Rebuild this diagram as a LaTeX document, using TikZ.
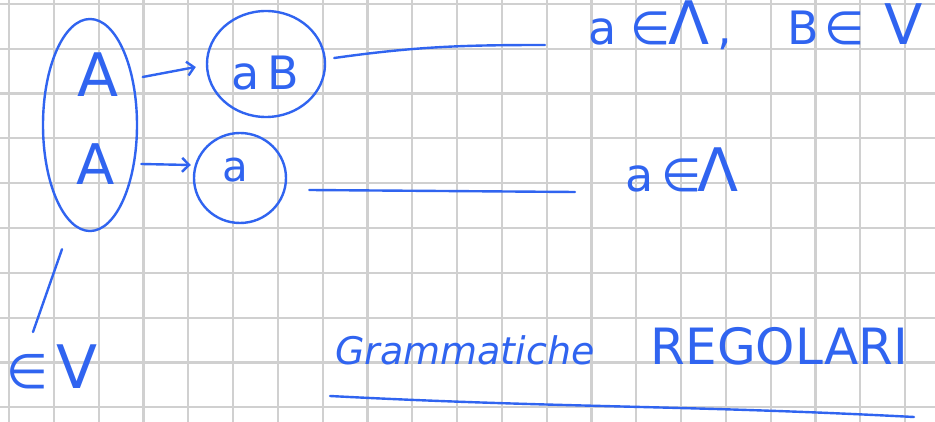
\documentclass[tikz,border=0pt]{standalone}
\usepackage{fontspec}
\setmainfont{DejaVu Sans}
\usetikzlibrary{shapes.geometric,arrows.meta}

\definecolor{ink}{RGB}{48,100,240}
\definecolor{paper}{RGB}{208,208,208}

\tikzset{
  gridline/.style={draw=paper, line width=2.2pt},
  pen/.style={draw=ink, line width=2.4pt, line cap=round, line join=round},
  blob/.style={pen, ellipse, inner sep=0pt},
  letter/.style={text=ink, inner sep=0pt},
  produces/.style={pen, -{Straight Barb[length=7pt,width=14pt]}}
}
\newcommand{\biglambda}{{\fontsize{60}{60}\selectfont Λ}}

\begin{document}
\begin{tikzpicture}[x=1pt, y=-1pt]
	\useasboundingbox[fill=white] (0,0) rectangle (935,422);

	% squared paper
	\foreach \k in {0,...,20}
		\draw[gridline] ({9+44.8*\k},0) -- ({9+44.8*\k},422);
	\foreach \k in {0,...,9}
		\draw[gridline] (0,{4+44.8*\k}) -- (935,{4+44.8*\k});

	% left-hand sides
	\node[blob, minimum width=94pt, minimum height=212pt] (pair) at (90,125) {};
	\node[letter, font=\fontsize{60}{60}\selectfont] (lhsA) at (98,75) {A};
	\node[letter, font=\fontsize{56}{56}\selectfont] (lhsB) at (96,164) {A};

	% right-hand sides
	\node[blob, minimum width=118pt, minimum height=106pt] (aB) at (266,64) {};
	\node[letter, font=\fontsize{46}{46}\selectfont] (aBtext) at (265,73) {a\,B};
	\node[blob, minimum width=92pt, minimum height=90pt] (term) at (240,178) {};
	\node[letter, font=\fontsize{42}{42}\selectfont] (termtext) at (235,170) {a};

	\draw[produces] ([xshift=24,yshift=-2]lhsA.east) -- ([shift={(-10,3)}]aB.west);
	\draw[produces] ([xshift=26]lhsB.east) -- ([shift={(-2,-13)}]term.west);

	% conditions
	\node[letter, anchor=base west, font=\fontsize{46}{46}\selectfont] (rule1) at (588,45)
		{a\hspace{14pt}∈\hspace{-2pt}\biglambda\hspace{8pt},\hspace{55pt}B\hspace{6pt}∈\hspace{20pt}{\fontsize{56}{56}\selectfont V}};
	\node[letter, anchor=base west, font=\fontsize{46}{46}\selectfont] (rule2) at (625,192)
		{a\hspace{8pt}∈\hspace{-4pt}\biglambda};

	\draw[pen] ([shift={(8,-6)}]aB.east) to[out=8,in=180] ([xshift=-43]rule1.base west);
	\draw[pen] ([shift={(22,12)}]term.east) -- ([xshift=-50]rule2.base west);

	% nonterminals
	\node[letter, anchor=base west, font=\fontsize{60}{60}\selectfont] (member) at (6,388) {{\fontsize{48}{48}\selectfont ∈}\hspace{8pt}V};
	\draw[pen] ([shift={(-28,17)}]pair.south) -- ([shift={(27,-56)}]member.base west);

	% title
	\node[letter, anchor=base west, font=\fontsize{50}{50}\selectfont] (title) at (335,364) {{\fontsize{38}{38}\selectfont\itshape Grammatiche}\hspace{56pt}REGOLARI};
	\draw[pen] ([shift={(-5,32)}]title.base west) to[out=-3,in=177] ([shift={(6,53)}]title.base east);
\end{tikzpicture}
\end{document}
